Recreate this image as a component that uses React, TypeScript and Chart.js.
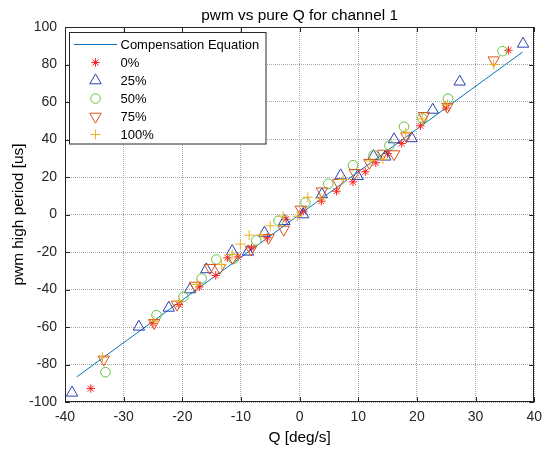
import React, { useEffect, useRef } from 'react';
import { Chart, registerables } from 'chart.js';

Chart.register(...registerables);

const TITLE = 'pwm vs pure Q for channel 1';
const X_LABEL = 'Q [deg/s]';
const Y_LABEL = 'pwm high period [us]';
const X_RANGE = [-40, 40];
const X_STEP = 10;
const Y_RANGE = [-100, 100];
const Y_STEP = 20;

const SERIES_NAMES = ['Compensation Equation', '0%', '25%', '50%', '75%', '100%'];

const LINE_X = [-38, 38];
const LINE_Y = [-86.6, 86.6];

const P0: number[][] = [
  [-35.6, -92.8], [-25.0, -58.0], [-20.6, -48.0], [-17.1, -38.6], [-14.3, -32.5],
  [-12.3, -23.1], [-10.5, -22.6], [-8.2, -17.8], [-5.5, -12.4], [-2.3, -2.5],
  [0.6, 1.8], [3.7, 7.1], [6.3, 12.4], [9.1, 17.4], [11.2, 22.8], [13.0, 27.6],
  [15.0, 32.5], [17.4, 37.9], [20.6, 47.3], [25.0, 56.8], [35.6, 87.6],
];
const P25: number[][] = [
  [-38.8, -95.1], [-27.4, -59.9], [-22.3, -49.8], [-18.7, -40.0], [-15.9, -29.3],
  [-11.5, -19.6], [-8.8, -19.9], [-6.0, -9.8], [-2.6, -3.6], [0.6, 0.0],
  [3.8, 10.7], [7.0, 20.8], [9.9, 20.4], [12.6, 31.1], [14.6, 30.8], [16.1, 40.0],
  [19.1, 40.6], [22.7, 55.8], [27.3, 70.8], [38.1, 91.0],
];
const P50: number[][] = [
  [-33.1, -84.1], [-24.4, -53.7], [-19.8, -43.9], [-16.7, -34.1], [-14.2, -24.0],
  [-11.3, -23.6], [-7.4, -13.8], [-3.6, -3.3], [1.0, 6.4], [4.9, 16.4],
  [9.1, 26.3], [12.6, 31.6], [15.3, 36.8], [17.8, 46.8], [20.9, 51.3],
  [25.3, 61.8], [34.6, 87.1],
];
const P75: number[][] = [
  [-33.4, -77.3], [-24.8, -57.8], [-20.9, -48.0], [-17.8, -37.9], [-15.3, -28.4],
  [-13.6, -28.4], [-11.4, -23.1], [-8.3, -18.7], [-5.3, -12.4], [-2.7, -8.0],
  [0.2, 2.7], [3.8, 12.4], [6.6, 16.9], [9.4, 22.2], [11.9, 27.6], [14.2, 32.5],
  [16.1, 32.2], [18.2, 41.8], [21.2, 52.6], [25.2, 57.5], [33.1, 82.3],
];
const P100: number[][] = [
  [-33.6, -76.1], [-24.8, -56.9], [-20.6, -46.2], [-17.5, -37.3], [-13.3, -26.7],
  [-11.5, -21.3], [-10.1, -15.8], [-8.6, -11.0], [-6.6, -11.0], [-5.0, -6.0],
  [-2.8, -0.9], [-0.4, -0.9], [1.4, 9.2], [3.5, 8.7], [7.4, 18.7], [12.0, 28.6],
  [14.2, 29.5], [18.1, 43.6], [20.9, 51.0], [25.2, 58.7], [33.1, 80.0],
];

const COLORS = ['#0072BD', '#FF1F1F', '#2A40B2', '#66C23F', '#D95319', '#EDB120'];
const STYLES = ['line', 'star', 'triangle', 'circle', 'tridown', 'plus'];
const RADII = [0, 4.2, 6.6, 4.8, 6.6, 5];

const FONT = '"Liberation Sans", Arial, Helvetica, sans-serif';
const AXIS_COLOR = '#262626';

function drawMarker(ctx: CanvasRenderingContext2D, style: string, x: number, y: number, r: number, color: string) {
  ctx.save();
  ctx.strokeStyle = color;
  ctx.lineWidth = 1;
  ctx.beginPath();
  if (style === 'star') {
    ctx.moveTo(x - r, y); ctx.lineTo(x + r, y);
    ctx.moveTo(x, y - r); ctx.lineTo(x, y + r);
    const d = r * Math.SQRT1_2;
    ctx.moveTo(x - d, y - d); ctx.lineTo(x + d, y + d);
    ctx.moveTo(x - d, y + d); ctx.lineTo(x + d, y - d);
  } else if (style === 'triangle' || style === 'tridown') {
    const s = style === 'triangle' ? 1 : -1;
    ctx.moveTo(x, y - s * r);
    ctx.lineTo(x + 0.866 * r, y + s * 0.5 * r);
    ctx.lineTo(x - 0.866 * r, y + s * 0.5 * r);
    ctx.closePath();
  } else if (style === 'circle') {
    ctx.arc(x, y, r, 0, Math.PI * 2);
  } else if (style === 'plus') {
    ctx.moveTo(x - r, y); ctx.lineTo(x + r, y);
    ctx.moveTo(x, y - r); ctx.lineTo(x, y + r);
  }
  ctx.stroke();
  ctx.restore();
}

const decorPlugin = {
  id: 'decor',
  afterDraw(chart: any) {
    const ctx: CanvasRenderingContext2D = chart.ctx;
    const { left, right, top, bottom } = chart.chartArea;
    const xs = chart.scales.x;
    const ys = chart.scales.y;
    ctx.save();
    // box
    ctx.strokeStyle = AXIS_COLOR;
    ctx.lineWidth = 1;
    ctx.strokeRect(Math.round(left) + 0.5, Math.round(top) + 0.5, Math.round(right - left) - 1, Math.round(bottom - top) - 1);
    // inward ticks
    const tl = 5;
    ctx.beginPath();
    for (let v = X_RANGE[0]; v <= X_RANGE[1]; v += X_STEP) {
      const px = Math.round(xs.getPixelForValue(v)) + 0.5;
      ctx.moveTo(px, bottom); ctx.lineTo(px, bottom - tl);
      ctx.moveTo(px, top); ctx.lineTo(px, top + tl);
    }
    for (let v = Y_RANGE[0]; v <= Y_RANGE[1]; v += Y_STEP) {
      const py = Math.round(ys.getPixelForValue(v)) + 0.5;
      ctx.moveTo(left, py); ctx.lineTo(left + tl, py);
      ctx.moveTo(right, py); ctx.lineTo(right - tl, py);
    }
    ctx.stroke();
    // title
    ctx.fillStyle = '#000';
    ctx.font = '15.4px ' + FONT;
    ctx.textAlign = 'center';
    ctx.textBaseline = 'alphabetic';
    ctx.fillText(TITLE, (left + right) / 2, 19.5);
    // legend
    const lx = 69.5, ly = 32.5, lw = 196.5, lh = 111.5;
    ctx.fillStyle = '#fff';
    ctx.fillRect(lx, ly, lw, lh);
    ctx.strokeStyle = AXIS_COLOR;
    ctx.strokeRect(lx, ly, lw, lh);
    ctx.font = '13px ' + FONT;
    ctx.textAlign = 'left';
    ctx.textBaseline = 'middle';
    for (let i = 0; i < SERIES_NAMES.length; i++) {
      const ry = 44.5 + i * 18;
      if (STYLES[i] === 'line') {
        ctx.strokeStyle = COLORS[i];
        ctx.beginPath();
        ctx.moveTo(74, ry); ctx.lineTo(117, ry);
        ctx.stroke();
      } else {
        drawMarker(ctx, STYLES[i], 95.5, ry, RADII[i], COLORS[i]);
      }
      ctx.fillStyle = '#000';
      ctx.fillText(SERIES_NAMES[i], 120.5, ry + 0.5);
    }
    ctx.restore();
  },
};

function toPts(arr: number[][]) {
  return arr.map(([x, y]) => ({ x, y }));
}

function pointStyleFor(s: string): any {
  if (s === 'tridown') return 'triangle';
  if (s === 'plus') return 'cross';
  return s;
}

export default function App() {
  const ref = useRef<HTMLCanvasElement | null>(null);
  useEffect(() => {
    if (!ref.current) return;
    const seriesData = [LINE_X.map((x, i) => [x, LINE_Y[i]]), P0, P25, P50, P75, P100];
    const datasets: any[] = seriesData.map((d, i) => {
      if (i === 0) {
        return {
          label: SERIES_NAMES[i],
          data: toPts(d),
          showLine: true,
          borderColor: COLORS[i],
          borderWidth: 1,
          pointRadius: 0,
          fill: false,
          order: 10,
        };
      }
      return {
        label: SERIES_NAMES[i],
        data: toPts(d),
        showLine: false,
        pointStyle: pointStyleFor(STYLES[i]),
        rotation: STYLES[i] === 'tridown' ? 180 : 0,
        pointRadius: RADII[i],
        pointBorderColor: COLORS[i],
        pointBackgroundColor: 'rgba(0,0,0,0)',
        pointBorderWidth: 1,
        borderColor: COLORS[i],
        backgroundColor: 'rgba(0,0,0,0)',
        order: 10 - i,
      };
    });
    const chart = new Chart(ref.current, {
      type: 'scatter',
      data: { datasets },
      plugins: [decorPlugin],
      options: {
        animation: false,
        responsive: false,
        maintainAspectRatio: false,
        devicePixelRatio: 1,
        layout: { padding: { top: 27, right: 9, left: 0, bottom: 0 } },
        plugins: {
          legend: { display: false },
          title: { display: false },
          tooltip: { enabled: false },
        },
        scales: {
          x: {
            type: 'linear',
            min: X_RANGE[0],
            max: X_RANGE[1],
            afterFit: (s: any) => { s.height = 50; },
            ticks: {
              stepSize: X_STEP,
              color: AXIS_COLOR,
              font: { family: FONT, size: 14 },
              padding: 7,
              maxRotation: 0,
              autoSkip: false,
            },
            grid: { color: '#a8a8a8', lineWidth: 1, drawTicks: false },
            border: { display: false, dash: [1, 1] },
            title: {
              display: true,
              text: X_LABEL,
              color: '#000',
              font: { family: FONT, size: 15.4 },
              padding: { top: 0, bottom: 5 },
            },
          },
          y: {
            type: 'linear',
            min: Y_RANGE[0],
            max: Y_RANGE[1],
            afterFit: (s: any) => { s.width = 65; },
            ticks: {
              stepSize: Y_STEP,
              color: AXIS_COLOR,
              font: { family: FONT, size: 14 },
              padding: 8,
              autoSkip: false,
            },
            grid: { color: '#a8a8a8', lineWidth: 1, drawTicks: false },
            border: { display: false, dash: [1, 1] },
            title: {
              display: true,
              text: Y_LABEL,
              color: '#000',
              font: { family: FONT, size: 15.4 },
              padding: { top: 10, bottom: 0 },
            },
          },
        },
      } as any,
    });
    return () => chart.destroy();
  }, []);
  return (
    <div style={{ position: 'fixed', left: 0, top: 0, width: 549, height: 452, background: '#fff' }}>
      <canvas ref={ref} width={549} height={452} style={{ width: 549, height: 452, display: 'block' }} />
    </div>
  );
}
